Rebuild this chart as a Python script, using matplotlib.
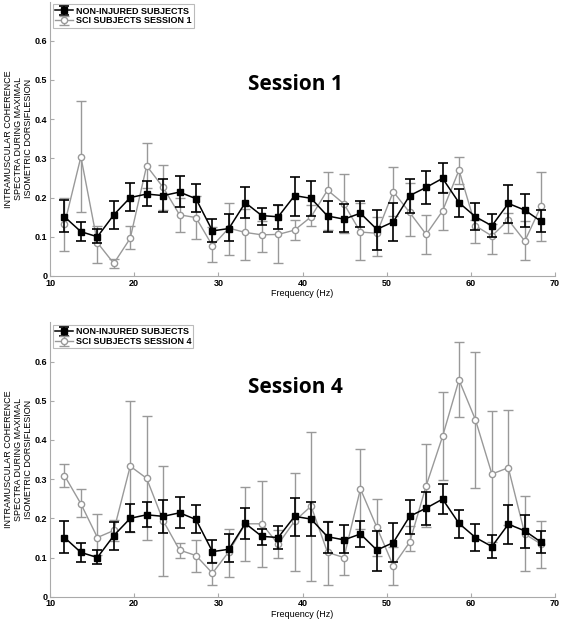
import matplotlib
matplotlib.use("Agg")
import matplotlib.pyplot as plt

plt.rcParams['font.family'] = ['Liberation Sans', 'DejaVu Sans']

freq = [11.72, 13.67, 15.63, 17.58, 19.53, 21.48, 23.44, 25.39, 27.34, 29.30,
        31.25, 33.20, 35.16, 37.11, 39.06, 41.02, 42.97, 44.92, 46.88, 48.83,
        50.78, 52.73, 54.69, 56.64, 58.59, 60.55, 62.50, 64.45, 66.41, 68.36]

# non-injured (same in both panels)
ni_mean = [0.151, 0.113, 0.100, 0.156, 0.200, 0.209, 0.205, 0.214, 0.197, 0.115,
           0.121, 0.187, 0.154, 0.151, 0.205, 0.198, 0.153, 0.145, 0.160, 0.119,
           0.138, 0.205, 0.226, 0.249, 0.187, 0.151, 0.128, 0.185, 0.168, 0.139]
ni_hi = [0.194, 0.138, 0.120, 0.190, 0.236, 0.241, 0.247, 0.254, 0.234, 0.145,
         0.159, 0.226, 0.174, 0.180, 0.253, 0.242, 0.190, 0.183, 0.192, 0.168,
         0.187, 0.247, 0.268, 0.287, 0.221, 0.185, 0.157, 0.233, 0.209, 0.168]
ni_lo = [0.111, 0.088, 0.083, 0.120, 0.165, 0.179, 0.162, 0.176, 0.162, 0.086,
         0.088, 0.148, 0.131, 0.121, 0.154, 0.154, 0.112, 0.112, 0.126, 0.065,
         0.088, 0.160, 0.184, 0.211, 0.151, 0.117, 0.100, 0.135, 0.124, 0.111]

# SCI subjects session 1
s1_mean = [0.132, 0.304, 0.085, 0.032, 0.096, 0.281, 0.226, 0.156, 0.149, 0.077,
           0.122, 0.111, 0.105, 0.106, 0.117, 0.151, 0.219, 0.184, 0.112, 0.109,
           0.215, 0.162, 0.106, 0.166, 0.270, 0.128, 0.102, 0.143, 0.089, 0.179]
s1_hi = [0.198, 0.446, 0.128, 0.043, 0.128, 0.339, 0.283, 0.200, 0.204, 0.126,
         0.187, 0.172, 0.139, 0.181, 0.143, 0.181, 0.264, 0.259, 0.187, 0.151,
         0.277, 0.236, 0.156, 0.213, 0.304, 0.143, 0.132, 0.160, 0.139, 0.266]
s1_lo = [0.064, 0.164, 0.034, 0.020, 0.068, 0.224, 0.168, 0.112, 0.094, 0.036,
         0.053, 0.041, 0.060, 0.034, 0.092, 0.128, 0.118, 0.109, 0.041, 0.051,
         0.153, 0.102, 0.055, 0.117, 0.234, 0.085, 0.055, 0.109, 0.041, 0.089]

# SCI subjects session 4
s4_mean = [0.309, 0.237, 0.151, 0.169, 0.333, 0.302, 0.194, 0.119, 0.105, 0.060,
           0.115, 0.186, 0.186, 0.134, 0.193, 0.231, 0.113, 0.100, 0.275, 0.177,
           0.079, 0.139, 0.283, 0.409, 0.553, 0.451, 0.313, 0.329, 0.160, 0.134]
s4_hi = [0.339, 0.274, 0.210, 0.196, 0.500, 0.460, 0.334, 0.136, 0.145, 0.088,
         0.173, 0.279, 0.296, 0.169, 0.315, 0.421, 0.193, 0.151, 0.378, 0.249,
         0.128, 0.180, 0.390, 0.521, 0.649, 0.625, 0.474, 0.477, 0.257, 0.193]
s4_lo = [0.281, 0.203, 0.106, 0.142, 0.166, 0.145, 0.053, 0.099, 0.063, 0.030,
         0.051, 0.092, 0.077, 0.098, 0.066, 0.041, 0.031, 0.055, 0.173, 0.104,
         0.030, 0.117, 0.177, 0.298, 0.458, 0.277, 0.140, 0.183, 0.066, 0.074]

panels = [("SCI SUBJECTS SESSION 1", "Session 1", 0.696, s1_mean, s1_lo, s1_hi),
          ("SCI SUBJECTS SESSION 4", "Session 4", 0.764, s4_mean, s4_lo, s4_hi)]

fig = plt.figure(figsize=(5.67, 6.21), dpi=100)
positions = [[0.0882, 0.5556, 0.8907, 0.4419], [0.0882, 0.0391, 0.8907, 0.4419]]
gray = '#999999'
spine_col = '#aaaaaa'

for pos, (lab, title, ty, m, lo, hi) in zip(positions, panels):
    ax = fig.add_axes(pos)
    err_ni = [[a - b for a, b in zip(ni_mean, ni_lo)], [b - a for a, b in zip(ni_mean, ni_hi)]]
    err_s = [[a - b for a, b in zip(m, lo)], [b - a for a, b in zip(m, hi)]]
    ax.errorbar(freq, ni_mean, yerr=err_ni, color='black', lw=1.1, marker='s', ms=4,
                mfc='black', mec='black', capsize=3.6, elinewidth=1.2, capthick=1.2,
                label='NON-INJURED SUBJECTS', zorder=3)
    ax.errorbar(freq, m, yerr=err_s, color=gray, lw=1.0, marker='o', ms=4.5,
                mfc='white', mec=gray, capsize=3.6, elinewidth=1.0, capthick=1.0,
                label=lab, zorder=2)
    ax.set_xlim(10, 70)
    ax.set_ylim(0, 0.7)
    ax.set_xticks([10, 20, 30, 40, 50, 60, 70])
    ax.set_yticks([0, 0.1, 0.2, 0.3, 0.4, 0.5, 0.6])
    ax.set_yticklabels(['0', '0.1', '0.2', '0.3', '0.4', '0.5', '0.6'])
    for s in ['top', 'right']:
        ax.spines[s].set_visible(False)
    for s in ['left', 'bottom']:
        ax.spines[s].set_color(spine_col)
        ax.spines[s].set_linewidth(0.8)
    ax.tick_params(direction='in', length=3, color=spine_col, labelsize=6.5, pad=2)
    for t in ax.get_xticklabels() + ax.get_yticklabels():
        t.set_fontweight('bold')
    ax.set_xlabel('Frequency (Hz)', fontsize=6.5, labelpad=1)
    ax.set_ylabel('INTRAMUSCULAR COHERENCE\nSPECTRA DURING MAXIMAL\nISOMETRIC DORSIFLESION',
                  fontsize=6.5, linespacing=1.15, labelpad=1)
    ax.text(0.485, ty, title, transform=ax.transAxes, ha='center', va='center',
            fontsize=15, fontweight='bold', family=['Open Sans', 'DejaVu Sans'])
    leg = ax.legend(loc='upper left', bbox_to_anchor=(0.0, 1.0),
                    prop={'weight': 'bold', 'size': 6.5}, frameon=True, fancybox=False,
                    handlelength=2.0, borderpad=0.25, labelspacing=0.1, handletextpad=0.3,
                    borderaxespad=0.3)
    leg.get_frame().set_edgecolor(spine_col)
    leg.get_frame().set_linewidth(0.8)

fig.savefig('out.png', dpi=100)
